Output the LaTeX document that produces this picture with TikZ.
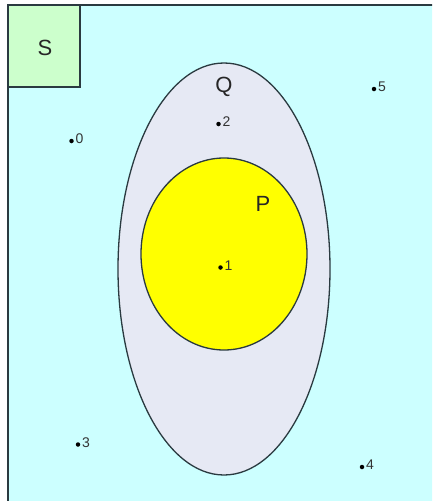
\documentclass[tikz,border=0pt]{standalone}
\usepackage{fontspec}
\setmainfont{Liberation Sans}
\usepackage{tikz}
\usetikzlibrary{shapes.geometric}
\definecolor{universe}{HTML}{CCFFFF}
\definecolor{sbox}{HTML}{CCFFCC}
\definecolor{qfill}{HTML}{E6E9F4}
\definecolor{pfill}{HTML}{FFFF00}
\definecolor{rim}{HTML}{2A3A40}
\tikzset{region/.style = {draw = rim, line width = 1.3pt, inner sep = 0}}
\tikzset{setname/.style = {font = \fontsize{22}{22}\selectfont, text = black!85}}
\tikzset{point/.style = {shape = circle, fill = black, inner sep = 0, minimum size = 4.5pt}}
\tikzset{num/.style = {font = \fontsize{14}{14}\selectfont, text = black!80, inner sep = 0}}

\begin{document}
\begin{tikzpicture}[x = 1pt, y = -1pt]
				\useasboundingbox (0, 0) rectangle (432, 501);
				\clip (0, 0) rectangle (432, 501);
				\fill[white] (0, 0) rectangle (432, 501);
				\draw[region, fill = universe] (8, 5) rectangle (445, 515);
	
				\node[region, fill = sbox, minimum width = 72pt, minimum height = 82pt] (sbox) at (44, 46) {};
				\node[setname] (s) at (45, 48) {S};
	
				\node[region, ellipse, fill = qfill, minimum width = 212pt, minimum height = 412pt] (q) at (224, 269) {};
				\node[region, ellipse, fill = pfill, minimum width = 166pt, minimum height = 192pt] (p) at (224, 254) {};
				\node[setname] (qname) at (224, 87) {Q};
				\node[setname] (pname) at (263, 204) {P};
	
				\node[point] (d0) at (71.5, 141) {};
				\node[point] (d1) at (220.5, 267.5) {};
				\node[point] (d2) at (218.5, 124) {};
				\node[point] (d3) at (78, 444.5) {};
				\node[point] (d4) at (362, 467) {};
				\node[point] (d5) at (374, 89) {};
	
				\node[num, anchor = base west] (n0) at ([xshift = 1.5pt, yshift = -2.5pt]d0.east) {0};
				\node[num, anchor = base west] (n1) at ([xshift = 1.5pt, yshift = -2.5pt]d1.east) {1};
				\node[num, anchor = base west] (n2) at ([xshift = 1.5pt, yshift = -2.5pt]d2.east) {2};
				\node[num, anchor = base west] (n3) at ([xshift = 1.5pt, yshift = -2.5pt]d3.east) {3};
				\node[num, anchor = base west] (n4) at ([xshift = 1.5pt, yshift = -2.5pt]d4.east) {4};
				\node[num, anchor = base west] (n5) at ([xshift = 1.5pt, yshift = -2.5pt]d5.east) {5};
			\end{tikzpicture}
\end{document}
